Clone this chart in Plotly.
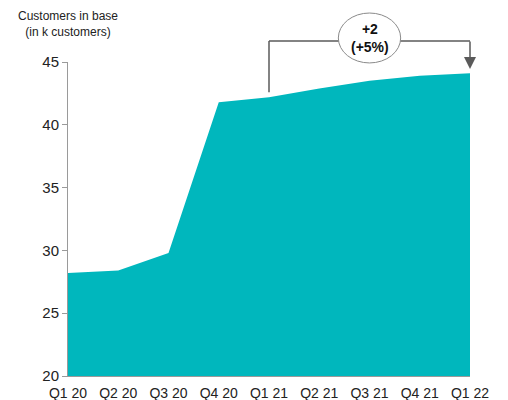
import plotly.graph_objects as go

quarters = ["Q1 20", "Q2 20", "Q3 20", "Q4 20", "Q1 21", "Q2 21", "Q3 21", "Q4 21", "Q1 22"]
customers = [28.2, 28.4, 29.8, 41.8, 42.2, 42.9, 43.5, 43.9, 44.1]
y_ticks = [20, 25, 30, 35, 40, 45]
y_min, y_max = 20, 45

start_i = quarters.index("Q1 21")
end_i = len(quarters) - 1
mid_i = quarters.index("Q3 21")
n = len(quarters) - 1

def py(v):
    return (v - y_min) / (y_max - y_min)

fill = "#00B7BD"
grey = "#5a5a5a"

fig = go.Figure()
fig.add_trace(go.Scatter(
    x=list(range(len(quarters))), y=customers, mode="lines",
    line=dict(color=fill, width=0), fill="tozeroy", fillcolor=fill,
    hoverinfo="skip", showlegend=False))

bracket_y = 1.067
shapes = [
    dict(type="line", xref="x", yref="paper", x0=start_i, x1=start_i,
         y0=py(customers[start_i] + 0.4), y1=bracket_y, line=dict(color=grey, width=1.5)),
    dict(type="line", xref="x", yref="paper", x0=start_i, x1=end_i,
         y0=bracket_y, y1=bracket_y, line=dict(color=grey, width=1.5)),
    dict(type="circle", xref="x", yref="paper", x0=mid_i - 0.62, x1=mid_i + 0.62,
         y0=0.997, y1=1.156, fillcolor="white", line=dict(color="#8a8a8a", width=1)),
]

annotations = [
    dict(x=end_i, y=customers[end_i] + 0.35, xref="x", yref="y", text="", showarrow=True,
         ax=0, ay=-29, arrowhead=2, arrowsize=1.6, arrowwidth=1.5, arrowcolor=grey),
    dict(x=mid_i, y=1.076, xref="x", yref="paper", yanchor="middle", xanchor="center",
         text="<b>+2</b><br><b>(+5%)</b>",
         showarrow=False, font=dict(size=14, color="#111")),
    dict(x=0, y=1.121, xref="paper", yref="paper", xanchor="center", yanchor="middle",
         text="Customers in base<br>(in k customers)", showarrow=False, align="center",
         font=dict(size=12, color="#222")),
]

fig.update_layout(
    width=508, height=400,
    margin=dict(l=68, r=38, t=62, b=24),
    paper_bgcolor="white", plot_bgcolor="white",
    font=dict(family="Liberation Sans, Arial", size=14, color="#222"),
    shapes=shapes,
    annotations=annotations,
    xaxis=dict(range=[0, n], tickmode="array", tickvals=list(range(len(quarters))),
               ticktext=quarters, showgrid=False, zeroline=False, showline=True,
               linecolor="#9a9a9a", linewidth=1, ticks="", tickfont=dict(size=14),
               ticklabelstandoff=4, automargin=False),
    yaxis=dict(range=[y_min, y_max], tickmode="array", tickvals=y_ticks,
               showgrid=False, zeroline=False, showline=True, linecolor="#9a9a9a",
               linewidth=1, ticks="outside", ticklen=5, tickcolor="#9a9a9a",
               tickfont=dict(size=15), automargin=False),
)

fig.write_html("out.html")
